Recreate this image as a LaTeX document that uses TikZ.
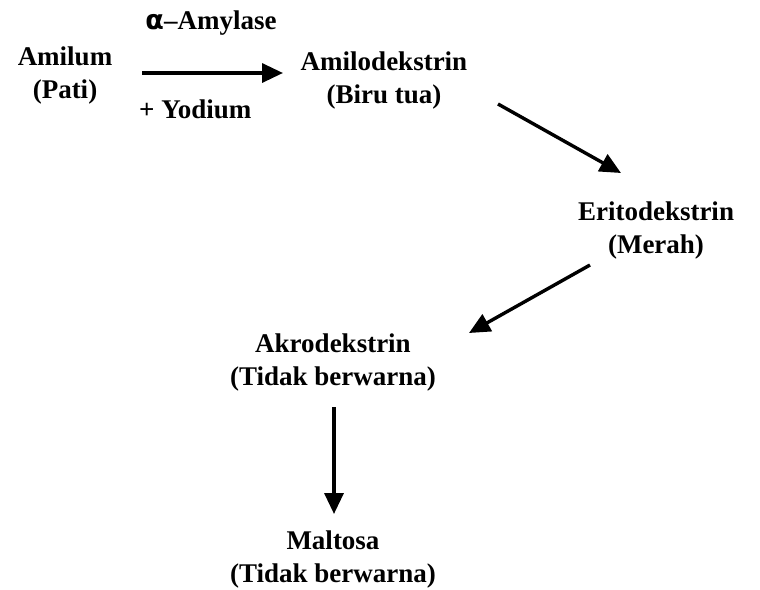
\documentclass[tikz,border=0pt]{standalone}
\usepackage{fontspec}
\setmainfont{Liberation Serif}
\newfontfamily\symfont{DejaVu Sans}
\usetikzlibrary{arrows.meta}
\begin{document}
\begin{tikzpicture}[x=1pt,y=-1pt,
  lbl/.style={font=\fontsize{27}{33}\selectfont\bfseries, align=center, inner sep=0pt},
  arr/.style={line width=3.4pt, -{Triangle[length=21pt,width=19pt]}}]
\useasboundingbox (0,0) rectangle (760,589);
\node[lbl] (amilum) at (65,76) {Amilum\\(Pati)};
\node[lbl] (amilo) at (384,81) {Amilodekstrin\\(Biru tua)};
\node[lbl] (erito) at (656,231) {Eritodekstrin\\(Merah)};
\node[lbl] (akro) at (333,363) {Akrodekstrin\\(Tidak berwarna)};
\node[lbl] (malto) at (333,559) {Maltosa\\(Tidak berwarna)};
\node[lbl, anchor=base] (enz) at (211,29) {{\symfont α}–Amylase};
\node[lbl, anchor=base west] (yod) at (139,118) {+ Yodium};
\coordinate (a1s) at (142,73);
\coordinate (a1e) at (283,73);
\coordinate (a2s) at (498,104);
\coordinate (a2e) at (621,173);
\coordinate (a3s) at (590,265);
\coordinate (a3e) at (469,333);
\coordinate (a4s) at (334,407);
\coordinate (a4e) at (334,514);
\draw[arr] (a1s) -- (a1e);
\draw[arr] (a2s) -- (a2e);
\draw[arr] (a3s) -- (a3e);
\draw[arr] (a4s) -- (a4e);
\end{tikzpicture}
\end{document}
